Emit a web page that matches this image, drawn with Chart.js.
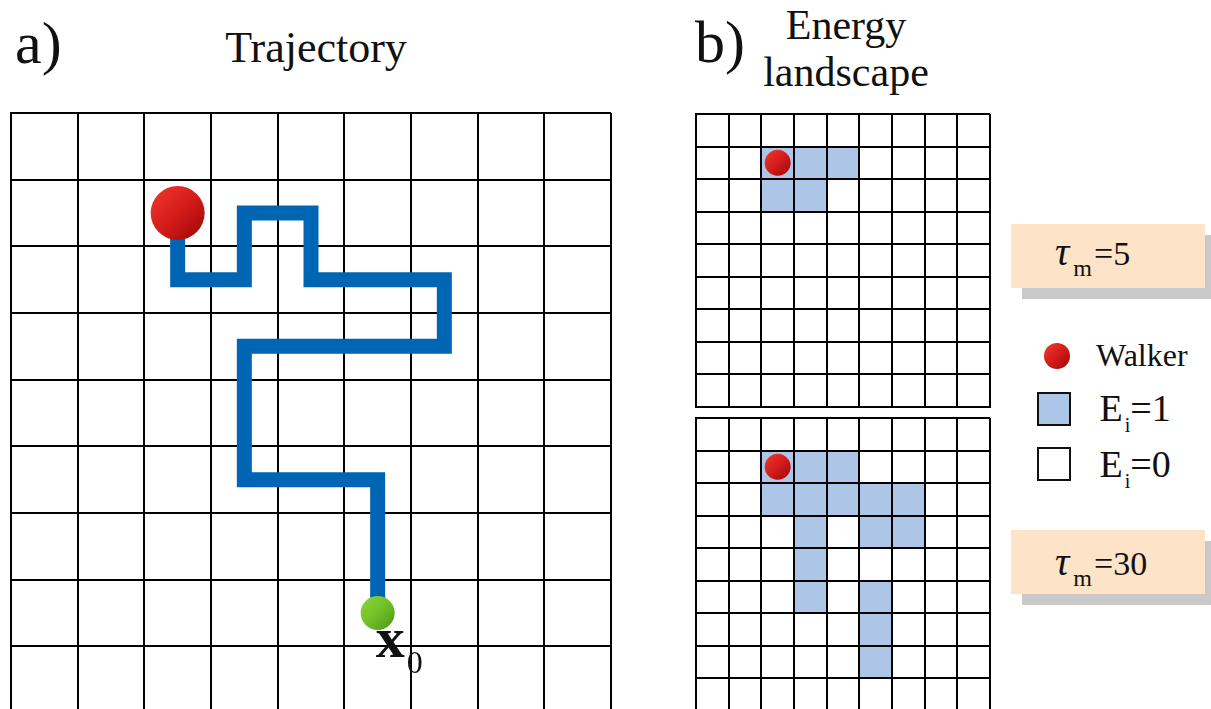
<!DOCTYPE html>
<html>
<head>
<meta charset="utf-8">
<title>Trajectory and energy landscape</title>
<script src="https://cdn.jsdelivr.net/npm/chart.js"></script>
<style>
  html, body { margin: 0; padding: 0; background: #fff; overflow: hidden; width: 1211px; height: 709px; }
  #stage { position: relative; width: 1211px; height: 709px; overflow: hidden;
           font-family: "Liberation Serif", "Times New Roman", Times, serif; color: #111; }
  canvas { position: absolute; }
  .t { position: absolute; white-space: nowrap; line-height: 1; }
  .c { transform: translateX(-50%); text-align: center; }
  .memo { position: absolute; background: #fde3c8; box-shadow: 11px 11px 0 #c9c9c9; }
  .key { position: absolute; box-sizing: border-box; width: 34px; height: 34px; border: 2px solid #111; }
  .dot { position: absolute; border-radius: 50%;
         background: linear-gradient(135deg, #ee3a2e 0%, #d41c1a 50%, #9a0508 100%); }
  .sub { position: relative; }
</style>
</head>
<body>
<div id="stage">
  <canvas id="trajectory" width="625" height="625" style="left:0px;top:100px"></canvas>
  <canvas id="landscapeShort" width="330" height="320" style="left:680px;top:100px"></canvas>
  <canvas id="landscapeLong" width="330" height="320" style="left:680px;top:404px"></canvas>

  <div class="t" style="left:15px;top:12.75px;font-size:60px">a)</div>
  <div class="t c" style="left:316px;top:26.15px;font-size:44px">Trajectory</div>
  <div class="t" style="left:695px;top:11.75px;font-size:60px">b)</div>
  <div class="t c" style="left:846px;top:2.3px;font-size:42px;line-height:47px">Energy<br>landscape</div>

  <div class="memo" style="left:1011px;top:224px;width:194px;height:64px"></div>
  <div class="t" style="left:1055px;top:231.5px;font-size:40px"><i>τ</i><span class="sub" style="font-size:24px;top:11px;margin-left:4px">m</span><span style="font-size:34px;margin-left:2px">=5</span></div>

  <div class="dot" style="left:1044px;top:343px;width:26px;height:26px"></div>
  <div class="t" style="left:1096px;top:339.2px;font-size:32px">Walker</div>
  <div class="key" style="left:1037px;top:392px;background:#adc6e7"></div>
  <div class="t" style="left:1099.5px;top:388.9px;font-size:38px">E<span class="sub" style="font-size:20px;top:11px;margin-left:2px">i</span>=1</div>
  <div class="key" style="left:1037px;top:447px;background:#fff"></div>
  <div class="t" style="left:1099.5px;top:444.9px;font-size:38px">E<span class="sub" style="font-size:20px;top:11px;margin-left:2px">i</span>=0</div>

  <div class="memo" style="left:1011px;top:530px;width:194px;height:64px"></div>
  <div class="t" style="left:1055px;top:541.5px;font-size:40px"><i>τ</i><span class="sub" style="font-size:24px;top:11px;margin-left:4px">m</span><span style="font-size:34px;margin-left:2px">=30</span></div>
</div>

<script>
// Lattice size (cells per side)
const GRID_SIZE = 9;

// Trajectory turning points (column, row), from the start x0 to the walker
const pathCols = [5, 5, 3, 3, 6, 6, 4, 4, 3, 3, 2, 2];
const pathRows = [7, 5, 5, 3, 3, 2, 2, 1, 1, 2, 2, 1];

// Start site x0 and current walker site
const startCell = [5, 7];
const walkerCell = [2, 1];

// Sites with E_i = 1 for memory tau_m = 5
const shortCols = [2, 3, 4, 2, 3];
const shortRows = [1, 1, 1, 2, 2];

// Sites with E_i = 1 for memory tau_m = 30
const longCols = [2, 3, 4, 2, 3, 4, 5, 6, 3, 5, 6, 3, 3, 5, 5, 5];
const longRows = [1, 1, 1, 2, 2, 2, 2, 2, 3, 3, 3, 4, 5, 5, 6, 7];

// cell (col,row) -> point at the cell centre
const centre = (c, r) => ({ x: c + 0.5, y: r + 0.5 });

// square lattice axes: one grid line per cell edge, no tick labels
function latticeScales(lineWidth, gridOnTop) {
  const axis = extra => Object.assign({
    type: 'linear',
    min: 0,
    max: GRID_SIZE,
    offset: false,
    ticks: { display: false, stepSize: 1 },
    grid: { color: '#000', lineWidth: lineWidth, drawTicks: false, offset: false, z: gridOnTop ? 1 : -1 },
    border: { display: true, color: '#000', width: lineWidth, z: gridOnTop ? 1 : 0 }
  }, extra);
  return { x: axis({ position: 'bottom' }), y: axis({ reverse: true }) };
}

// shaded ball: light upper-left, dark lower-right
function ballFill(light, mid, dark) {
  return ctx => {
    const chart = ctx.chart;
    if (!ctx.raw || !chart.chartArea) return mid;
    const x = chart.scales.x.getPixelForValue(ctx.raw.x);
    const y = chart.scales.y.getPixelForValue(ctx.raw.y);
    const r = ctx.dataset.pointRadius;
    const g = chart.ctx.createLinearGradient(x - r, y - r, x + r, y + r);
    g.addColorStop(0, light);
    g.addColorStop(0.5, mid);
    g.addColorStop(1, dark);
    return g;
  };
}
const redBall = ballFill('#ee3a2e', '#d41c1a', '#9a0508');
const greenBall = ballFill('#8cd63a', '#72bf28', '#4c9414');

const common = {
  responsive: false,
  animation: false,
  devicePixelRatio: 1,
  events: [],
  plugins: { legend: { display: false }, tooltip: { enabled: false }, title: { display: false } }
};

// label "x0" under the start site
const startLabel = {
  id: 'startLabel',
  afterDatasetsDraw(chart) {
    const p = centre(startCell[0], startCell[1]);
    const x = chart.scales.x.getPixelForValue(p.x);
    const y = chart.scales.y.getPixelForValue(p.y);
    const c = chart.ctx;
    c.save();
    c.fillStyle = '#111';
    c.textBaseline = 'alphabetic';
    c.font = 'bold 58px "Liberation Serif", "Times New Roman", serif';
    c.fillText('x', x - 2, y + 44);
    c.font = '32px "Liberation Serif", "Times New Roman", serif';
    c.fillText('0', x + 29, y + 60);
    c.restore();
  }
};

// a) trajectory on the lattice
new Chart(document.getElementById('trajectory'), {
  type: 'line',
  data: {
    datasets: [
      {
        type: 'scatter',
        data: [centre(walkerCell[0], walkerCell[1])],
        pointRadius: 27,
        pointBorderWidth: 0,
        backgroundColor: redBall,
        order: 0
      },
      {
        type: 'scatter',
        data: [centre(startCell[0], startCell[1])],
        pointRadius: 17,
        pointBorderWidth: 0,
        backgroundColor: greenBall,
        order: 1
      },
      {
        data: pathCols.map((c, i) => centre(c, pathRows[i])),
        borderColor: '#0066b3',
        borderWidth: 15,
        borderJoinStyle: 'miter',
        borderCapStyle: 'butt',
        tension: 0,
        fill: false,
        pointRadius: 0,
        order: 2
      }
    ]
  },
  options: Object.assign({}, common, {
    layout: { autoPadding: false, padding: { left: 11, top: 13, right: 14, bottom: 12 } },
    scales: latticeScales(2, false)
  }),
  plugins: [startLabel]
});

// b) energy landscape for one memory length
function landscape(id, cols, rows) {
  return new Chart(document.getElementById(id), {
    type: 'bar',
    data: {
      datasets: [
        {
          type: 'scatter',
          data: [centre(walkerCell[0], walkerCell[1])],
          pointRadius: 13,
          pointBorderWidth: 0,
          backgroundColor: redBall,
          order: 0
        },
        {
          type: 'bar',
          data: cols.map((c, i) => ({ x: c + 0.5, y: [rows[i], rows[i] + 1] })),
          backgroundColor: '#adc6e7',
          borderWidth: 0,
          barPercentage: 1,
          categoryPercentage: 1,
          order: 1
        }
      ]
    },
    options: Object.assign({}, common, {
      layout: { autoPadding: false, padding: { left: 16, top: 14, right: 20, bottom: 13 } },
      scales: latticeScales(2, true)
    })
  });
}

landscape('landscapeShort', shortCols, shortRows);
landscape('landscapeLong', longCols, longRows);
</script>
</body>
</html>
